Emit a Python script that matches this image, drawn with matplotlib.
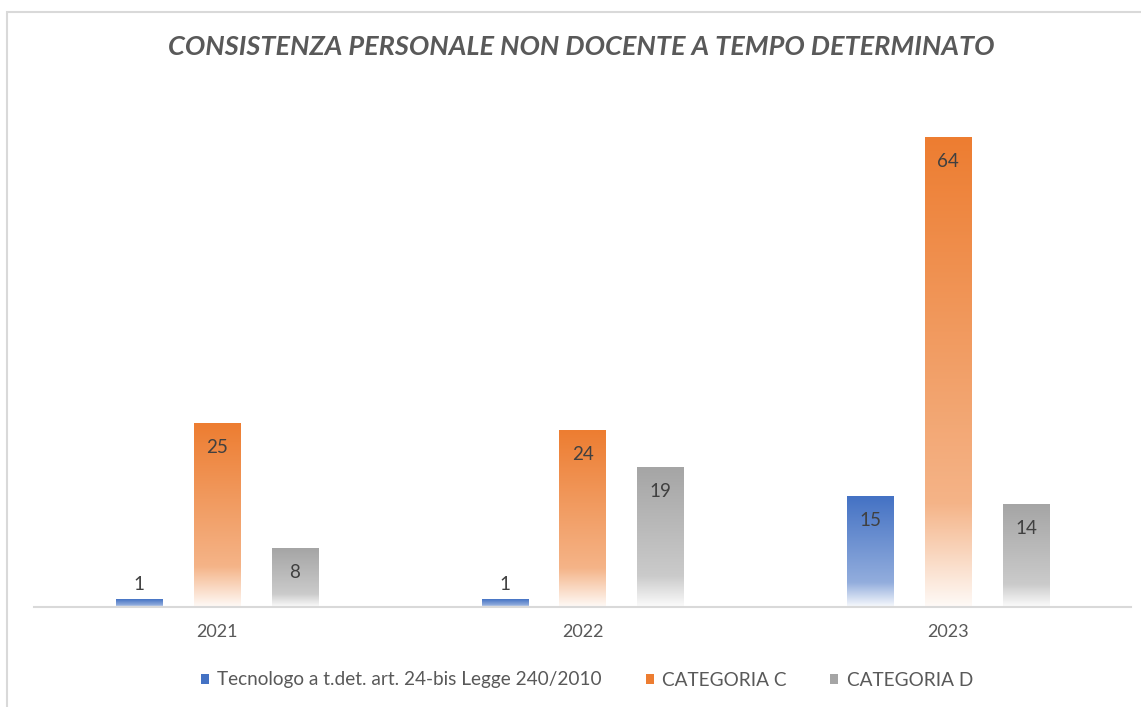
import numpy as np
import matplotlib
matplotlib.use("Agg")
import matplotlib.pyplot as plt
from matplotlib.colors import to_rgb
from matplotlib.patches import Rectangle

# Data
years = ["2021", "2022", "2023"]
series_names = ["Tecnologo a t.det. art. 24-bis Legge 240/2010", "CATEGORIA C", "CATEGORIA D"]
tecnologo = [1, 1, 15]
categoria_c = [25, 24, 64]
categoria_d = [8, 19, 14]
series_values = [tecnologo, categoria_c, categoria_d]
series_colors = ["#4472C4", "#ED7D31", "#A5A5A5"]

plt.rcParams["font.family"] = ["Lato", "DejaVu Sans"]

W, H = 1141, 707
fig = plt.figure(figsize=(W / 100, H / 100), dpi=100)
fig.patch.set_facecolor("white")

# Chart-area frame (runs past the right and bottom edges)
fig.patches.append(Rectangle((7 / W, -0.05), 1.1, (H - 12) / H + 0.05,
                             transform=fig.transFigure, fill=False,
                             edgecolor="#D9D9D9", linewidth=1.5))

ax = fig.add_axes([34 / W, (H - 607) / H, (1131 - 34) / W, (607 - 93) / H])
ax.set_facecolor("none")

x = np.arange(len(years))
width = 0.126
offsets = [-0.213, 0.0, 0.213]


def gradient_image(color, n=256):
    """Vertical fill: full colour at the top, lightening, then fading to white."""
    base = np.array(to_rgb(color))
    white = np.ones(3)
    t = np.linspace(0, 1, n)  # 0 = top, 1 = bottom
    stops_t = [0.0, 0.78, 1.0]
    stops_mix = [0.0, 0.42, 0.96]
    mix = np.interp(t, stops_t, stops_mix)
    rgb = base[None, :] * (1 - mix[:, None]) + white[None, :] * mix[:, None]
    return rgb[:, None, :]


LABEL_SIZE = 13.5

for vals, off, col in zip(series_values, offsets, series_colors):
    bars = ax.bar(x + off, vals, width, color="none", edgecolor="none")
    img = gradient_image(col)
    for b, v in zip(bars, vals):
        x0, y0 = b.get_x(), b.get_y()
        w, h = b.get_width(), b.get_height()
        ax.imshow(img, extent=[x0, x0 + w, y0, y0 + h], aspect="auto",
                  interpolation="bilinear", zorder=2)
        dy = -24 if v >= 3 else 15
        ax.annotate(str(v), (x0 + w / 2, y0 + h), xytext=(0, dy),
                    textcoords="offset pixels",
                    ha="center", va="center", fontsize=LABEL_SIZE, color="#404040",
                    zorder=3)

ax.set_xlim(-0.5, 2.5)
ax.set_ylim(0, 70)
ax.set_xticks(x)
ax.set_xticklabels(years, fontsize=13, color="#595959")
ax.tick_params(axis="x", length=0, pad=12)
ax.set_yticks([])
for s in ["top", "left", "right"]:
    ax.spines[s].set_visible(False)
ax.spines["bottom"].set_color("#D9D9D9")
ax.spines["bottom"].set_linewidth(1.5)

fig.text(581.5 / W, 1 - 47 / H, "CONSISTENZA PERSONALE NON DOCENTE A TEMPO DETERMINATO",
         ha="center", va="center", fontsize=19.5, fontweight="bold", fontstyle="italic",
         color="#595959")

handles = [Rectangle((0, 0), 1, 1, facecolor=c, edgecolor="none") for c in series_colors]
fig.legend(handles, series_names, loc="center", bbox_to_anchor=(587 / W, 1 - 680 / H),
           ncol=3, frameon=False, fontsize=13.7, labelcolor="#595959",
           handlelength=0.42, handleheight=0.42, handletextpad=0.45, columnspacing=2.3)

fig.savefig("out.png", dpi=100, facecolor="white")
